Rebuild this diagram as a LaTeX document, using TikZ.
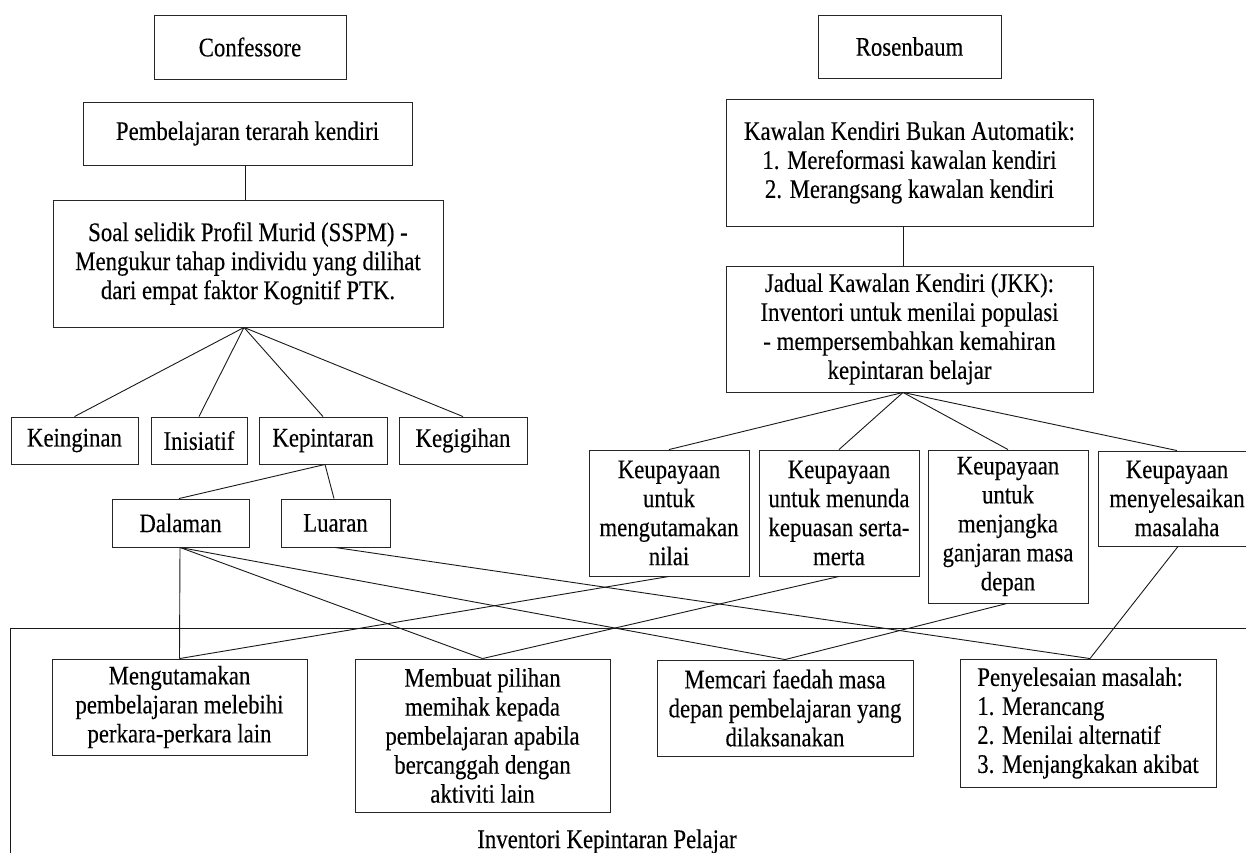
\documentclass[tikz,border=0pt]{standalone}
\usepackage{fontspec}
\setmainfont[FakeStretch=0.85,FakeBold=0.25]{Liberation Serif}
\begin{document}
\begin{tikzpicture}[x=1pt,y=-1pt,
  box/.style={draw=black!85, line width=0.9pt, rectangle, inner sep=0pt, align=center,
     font=\fontsize{26.8}{29}\selectfont, text=black},
  link/.style={draw=black!90, line width=0.9pt}]
\useasboundingbox (0,0) rectangle (1246,852);
\clip (0,0) rectangle (1246,852);
\fill[white] (0,0) rectangle (1246,852);
% frame
\draw[link] (10,628) rectangle (1270,880);
% left tree
\node[box, minimum width=192pt, minimum height=64pt] (conf) at (250,47) {Confessore};
\node[box, minimum width=329pt, minimum height=63pt] (pem) at (247.5,133.5) {Pembelajaran terarah kendiri};
\node[box, minimum width=390pt, minimum height=127pt] (sspm) at (248,263.5) {Soal selidik Profil Murid (SSPM) -\\Mengukur tahap individu yang dilihat\\dari empat faktor Kognitif PTK.};
\node[box, minimum width=127pt, minimum height=47pt] (kein) at (74.5,440.5) {Keinginan};
\node[box, minimum width=96pt, minimum height=47pt] (inis) at (199,440.5) {Inisiatif};
\node[box, minimum width=128pt, minimum height=47pt] (kepi) at (323,440.5) {Kepintaran};
\node[box, minimum width=128pt, minimum height=47pt] (kegi) at (463,440.5) {Kegigihan};
\node[box, minimum width=137pt, minimum height=48pt] (dal) at (180.5,523) {Dalaman};
\node[box, minimum width=109pt, minimum height=48pt] (lua) at (335.5,523) {Luaran};
% right tree
\node[box, minimum width=183pt, minimum height=63pt] (ros) at (909.5,46.5) {Rosenbaum};
\node[box, minimum width=367pt, minimum height=127pt] (kaw) at (909.5,162.5) {Kawalan Kendiri Bukan Automatik:\\1. Mereformasi kawalan kendiri\\2. Merangsang kawalan kendiri};
\node[box, minimum width=367pt, minimum height=126pt] (jkk) at (909.5,329) {Jadual Kawalan Kendiri (JKK):\\Inventori untuk menilai populasi\\- mempersembahkan kemahiran\\kepintaran belajar};
\node[box, minimum width=160pt, minimum height=126pt] (ka) at (669,513) {Keupayaan\\untuk\\mengutamakan\\nilai};
\node[box, minimum width=160pt, minimum height=126pt] (kb) at (839,513) {Keupayaan\\untuk menunda\\kepuasan serta-\\merta};
\node[box, minimum width=160pt, minimum height=153pt] (kc) at (1008,526.5) {Keupayaan\\untuk\\menjangka\\ganjaran masa\\depan};
\node[box, minimum width=158pt, minimum height=95pt] (kd) at (1177,498.5) {Keupayaan\\menyelesaikan\\masalaha};
% bottom boxes
\node[box, minimum width=255pt, minimum height=96pt] (ma) at (179.5,707) {Mengutamakan\\pembelajaran melebihi\\perkara-perkara lain};
\node[box, minimum width=255pt, minimum height=153pt] (mb) at (482.5,735.5) {Membuat pilihan\\memihak kepada\\pembelajaran apabila\\bercanggah dengan\\aktiviti lain};
\node[box, minimum width=256pt, minimum height=96pt] (mc) at (785,708) {Memcari faedah masa\\depan pembelajaran yang\\dilaksanakan};
\node[box, minimum width=256pt, minimum height=128pt, align=left] (md) at (1088,723) {Penyelesaian masalah:\\1. Merancang\\2. Menilai alternatif\\3. Menjangkakan akibat};
\node[font=\fontsize{26.8}{29}\selectfont, text=black, anchor=base, inner sep=0pt] (inv) at (607,848) {Inventori Kepintaran Pelajar};
% connectors left
\draw[link] ([xshift=-2.5pt]pem.south) -- ([xshift=-3pt]sspm.north);
\coordinate (sa) at ([xshift=-4pt]sspm.south);
\draw[link] (sa) -- (kein.north);
\draw[link] (sa) -- (inis.north);
\draw[link] (sa) -- (kepi.north);
\draw[link] (sa) -- (kegi.north);
\coordinate (kp) at ([xshift=2pt]kepi.south);
\draw[link] (kp) -- ([xshift=-1.5pt]dal.north);
\draw[link] (kp) -- ([xshift=-1.5pt]lua.north);
% connectors right
\draw[link] ([xshift=-6.5pt]kaw.south) -- ([xshift=-6.5pt]jkk.north);
\coordinate (ja) at ([xshift=-6.5pt]jkk.south);
\draw[link] (ja) -- (ka.north);
\draw[link] (ja) -- (kb.north);
\draw[link] (ja) -- (kc.north);
\draw[link] (ja) -- (kd.north);
% crossing connectors
\coordinate (ds) at ([xshift=-0.5pt]dal.south);
\draw[link] (ds) -- (ma.north);
\draw[link] (ds) -- (mb.north);
\draw[link] (ds) -- (mc.north);
\draw[link] ([xshift=-0.5pt]lua.south) -- ([xshift=2pt]md.north);
\draw[link] (ka.south) -- (ma.north);
\draw[link] (kb.south) -- (mb.north);
\draw[link] ([xshift=-1pt]kc.south) -- (mc.north);
\draw[link] ([xshift=1pt]kd.south) -- ([xshift=2pt]md.north);
\end{tikzpicture}
\end{document}
